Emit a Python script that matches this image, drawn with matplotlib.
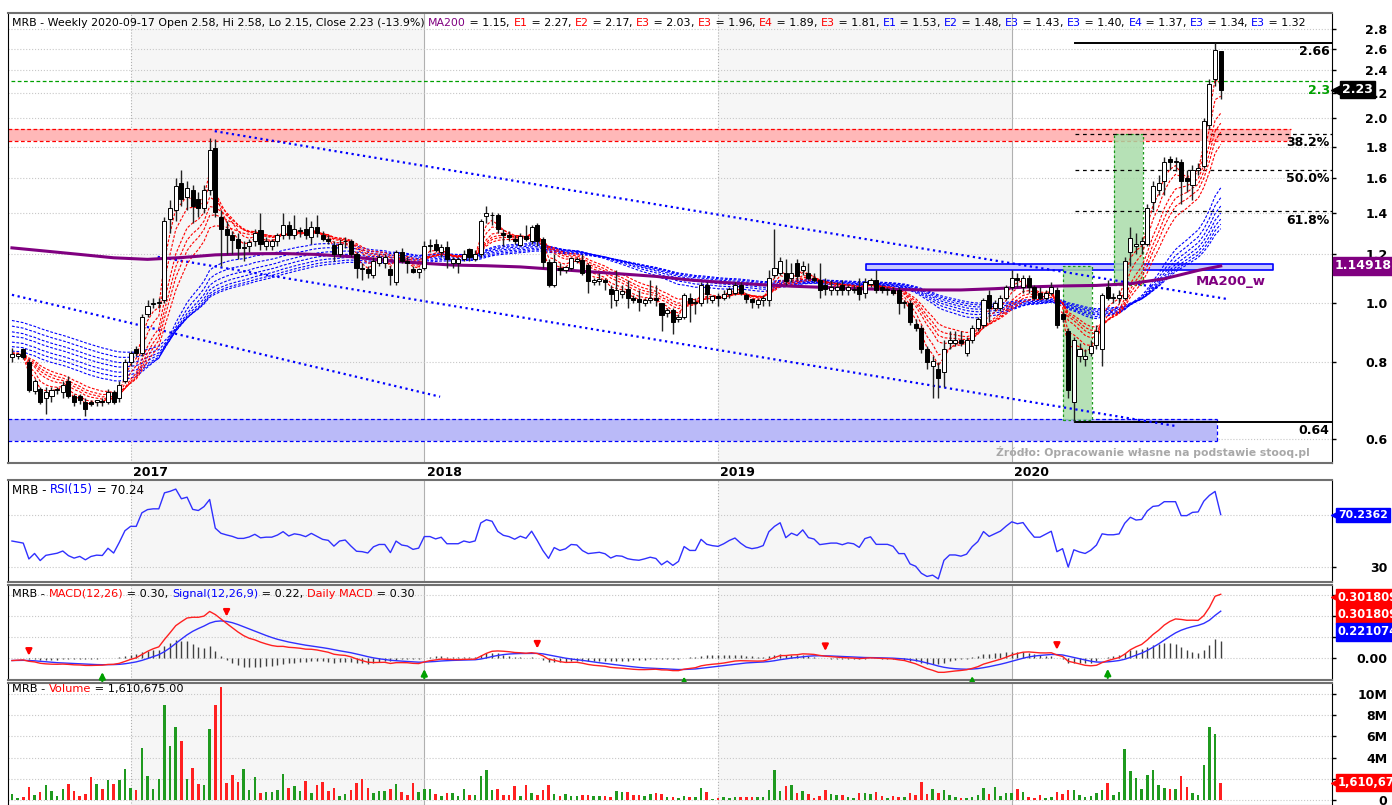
import matplotlib
matplotlib.use('Agg')
import matplotlib.pyplot as plt
import matplotlib.transforms as mtransforms
import numpy as np
import pandas as pd

plt.rcParams['font.family'] = ['DejaVu Sans']

# ---------------- data (weekly MRB candles) ----------------
DATES = pd.date_range('2016-08-11', periods=215, freq='7D')

OPEN = [.815, .82, .84, .80, .718, .725, .70, .705, .72, .715,
        .745, .705, .705, .69, .69, .69, .69, .69, .715, .70,
        .745, .80, .84, .83, .96, .995, 1.0, 1.01, 1.37, 1.42,
        1.57, 1.49, 1.53, 1.48, 1.43, 1.53, 1.79, 1.38, 1.32, 1.29,
        1.27, 1.23, 1.24, 1.26, 1.315, 1.24, 1.24, 1.26, 1.29, 1.34,
        1.29, 1.31, 1.32, 1.28, 1.33, 1.29, 1.27, 1.245, 1.20, 1.26,
        1.26, 1.20, 1.14, 1.135, 1.11, 1.16, 1.16, 1.135, 1.08, 1.21,
        1.17, 1.135, 1.125, 1.14, 1.24, 1.25, 1.21, 1.235, 1.16, 1.16,
        1.18, 1.225, 1.18, 1.20, 1.385, 1.39, 1.39, 1.30, 1.29, 1.27,
        1.245, 1.285, 1.26, 1.34, 1.27, 1.165, 1.07, 1.14, 1.13, 1.14,
        1.17, 1.175, 1.155, 1.08, 1.085, 1.09, 1.055, 1.01, 1.035, 1.055,
        1.02, 1.015, 1.0, 1.01, 1.02, .998, .962, .972, .94, .948,
        1.02, 1.0, .998, 1.07, 1.01, 1.025, 1.02, 1.035, 1.04, 1.07,
        1.03, 1.015, .995, 1.01, 1.01, 1.11, 1.12, 1.12, 1.10, 1.16,
        1.13, 1.12, 1.10, 1.09, 1.07, 1.05, 1.05, 1.07, 1.05, 1.05,
        1.06, 1.04, 1.075, 1.09, 1.06, 1.05, 1.05, 1.05, 1.0, 1.0,
        .925, .91, .84, .79, .78, .77, .86, .86, .87, .83,
        .87, .91, .92, 1.03, .98, .98, 1.02, 1.06, 1.10, 1.06,
        1.10, 1.06, 1.04, 1.02, 1.04, 1.05, .96, .90, .69, .82,
        .81, .83, .855, .84, 1.06, 1.02, 1.02, 1.02, 1.21, 1.24,
        1.25, 1.25, 1.46, 1.53, 1.58, 1.72, 1.70, 1.70, 1.60, 1.56,
        1.65, 1.67, 1.95, 2.32, 2.58]
HIGH = [.845, .83, .845, .81, .75, .73, .73, .73, .73, .745,
        .76, .71, .71, .70, .695, .695, .70, .725, .72, .745,
        .81, .835, .85, .96, 1.01, 1.02, 1.02, 1.38, 1.47, 1.60,
        1.65, 1.58, 1.56, 1.52, 1.56, 1.86, 1.85, 1.42, 1.36, 1.31,
        1.30, 1.26, 1.27, 1.32, 1.40, 1.28, 1.27, 1.30, 1.40, 1.36,
        1.39, 1.33, 1.38, 1.36, 1.39, 1.31, 1.29, 1.26, 1.27, 1.28,
        1.27, 1.21, 1.16, 1.15, 1.19, 1.20, 1.20, 1.15, 1.22, 1.23,
        1.19, 1.15, 1.14, 1.26, 1.27, 1.27, 1.25, 1.26, 1.19, 1.19,
        1.22, 1.23, 1.22, 1.37, 1.44, 1.41, 1.40, 1.32, 1.31, 1.29,
        1.30, 1.34, 1.34, 1.35, 1.28, 1.18, 1.20, 1.16, 1.15, 1.19,
        1.19, 1.20, 1.16, 1.10, 1.12, 1.10, 1.07, 1.13, 1.07, 1.09,
        1.03, 1.05, 1.02, 1.09, 1.07, 1.0, .98, .98, .96, 1.04,
        1.04, 1.02, 1.08, 1.08, 1.03, 1.04, 1.05, 1.06, 1.08, 1.08,
        1.04, 1.02, 1.02, 1.03, 1.13, 1.32, 1.19, 1.18, 1.16, 1.18,
        1.17, 1.16, 1.12, 1.16, 1.10, 1.09, 1.08, 1.09, 1.07, 1.07,
        1.10, 1.10, 1.10, 1.13, 1.07, 1.06, 1.06, 1.06, 1.01, 1.01,
        .94, .92, .85, .82, .80, .87, .90, .90, .90, .88,
        .92, .95, 1.02, 1.05, 1.01, 1.03, 1.07, 1.13, 1.12, 1.11,
        1.11, 1.07, 1.06, 1.05, 1.08, 1.06, .97, .91, .88, .86,
        .84, .87, .92, 1.04, 1.09, 1.04, 1.05, 1.19, 1.33, 1.30,
        1.28, 1.45, 1.58, 1.62, 1.73, 1.74, 1.73, 1.72, 1.65, 1.68,
        1.69, 2.0, 2.32, 2.66, 2.58]
LOW = [.80, .81, .81, .715, .71, .685, .66, .69, .71, .70,
       .70, .68, .685, .655, .68, .68, .68, .685, .685, .69,
       .74, .79, .82, .82, .95, .98, .98, 1.0, 1.30, 1.36,
       1.44, 1.42, 1.35, 1.38, 1.40, 1.50, 1.38, 1.15, 1.20, 1.20,
       1.18, 1.17, 1.21, 1.24, 1.22, 1.22, 1.22, 1.24, 1.27, 1.27,
       1.27, 1.28, 1.27, 1.25, 1.28, 1.26, 1.25, 1.17, 1.19, 1.23,
       1.19, 1.10, 1.09, 1.10, 1.10, 1.15, 1.14, 1.07, 1.07, 1.16,
       1.12, 1.12, 1.10, 1.13, 1.21, 1.21, 1.19, 1.14, 1.14, 1.12,
       1.17, 1.17, 1.17, 1.19, 1.35, 1.34, 1.30, 1.24, 1.26, 1.25,
       1.24, 1.26, 1.25, 1.24, 1.14, 1.06, 1.06, 1.11, 1.12, 1.13,
       1.16, 1.11, 1.04, 1.07, 1.07, 1.05, .98, .99, 1.02, .98,
       1.0, .97, .99, 1.0, .99, .90, .95, .89, .93, .94,
       .93, .96, .99, 1.0, 1.0, .99, 1.01, 1.02, 1.03, 1.03,
       1.0, .98, .98, .99, .99, 1.10, 1.11, 1.07, 1.08, 1.09,
       1.11, 1.09, 1.08, 1.02, 1.03, 1.03, 1.03, 1.03, 1.03, 1.04,
       1.01, 1.02, 1.06, 1.04, 1.04, 1.03, 1.03, .96, .98, .92,
       .90, .83, .78, .70, .70, .73, .84, .85, .85, .82,
       .86, .90, .91, .93, .97, .97, 1.01, 1.05, 1.06, 1.04,
       1.04, 1.01, 1.01, 1.01, 1.03, .91, .93, .70, .64, .80,
       .79, .82, .84, .79, 1.01, 1.0, 1.0, 1.01, 1.15, 1.20,
       1.20, 1.24, 1.42, 1.50, 1.50, 1.65, 1.64, 1.45, 1.52, 1.47,
       1.62, 1.66, 1.92, 2.26, 2.15]
CLOSE = [.825, .82, .815, .72, .745, .69, .715, .72, .725, .735,
         .705, .688, .695, .672, .685, .69, .688, .715, .69, .735,
         .80, .83, .83, .95, .99, 1.0, 1.0, 1.36, 1.43, 1.55,
         1.48, 1.54, 1.44, 1.43, 1.53, 1.78, 1.41, 1.32, 1.29, 1.265,
         1.23, 1.23, 1.255, 1.30, 1.25, 1.26, 1.26, 1.29, 1.34, 1.29,
         1.32, 1.31, 1.29, 1.33, 1.30, 1.27, 1.26, 1.20, 1.25, 1.26,
         1.20, 1.14, 1.135, 1.12, 1.17, 1.19, 1.19, 1.11, 1.21, 1.17,
         1.16, 1.125, 1.135, 1.24, 1.24, 1.22, 1.235, 1.18, 1.18, 1.18,
         1.20, 1.19, 1.20, 1.36, 1.40, 1.39, 1.32, 1.29, 1.28, 1.26,
         1.285, 1.27, 1.33, 1.26, 1.165, 1.07, 1.165, 1.13, 1.145, 1.185,
         1.18, 1.12, 1.085, 1.09, 1.095, 1.08, 1.035, 1.05, 1.045, 1.02,
         1.01, 1.005, 1.012, 1.02, 1.01, .955, .972, .932, .95, 1.03,
         1.0, 1.0, 1.07, 1.035, 1.025, 1.02, 1.035, 1.055, 1.07, 1.04,
         1.015, 1.005, 1.01, 1.02, 1.10, 1.14, 1.17, 1.085, 1.12, 1.105,
         1.15, 1.10, 1.09, 1.05, 1.055, 1.06, 1.06, 1.05, 1.06, 1.055,
         1.035, 1.08, 1.09, 1.05, 1.05, 1.05, 1.04, 1.0, 1.0, .93,
         .91, .84, .80, .805, .755, .84, .87, .87, .86, .87,
         .91, .94, 1.01, .98, 1.0, 1.02, 1.06, 1.10, 1.09, 1.10,
         1.06, 1.02, 1.02, 1.04, 1.06, .92, .94, .72, .87, .84,
         .82, .85, .90, 1.03, 1.02, 1.02, 1.03, 1.17, 1.275, 1.25,
         1.26, 1.43, 1.55, 1.57, 1.70, 1.70, 1.70, 1.58, 1.58, 1.65,
         1.66, 1.98, 2.28, 2.59, 2.23]
VOLUME_M = [.57, .2, .3, 1.24, .5, .73, 1.43, .83, .41, 1.05,
            1.49, .83, .41, .6, 2.19, 1.49, 1.05, 1.84, 1.49, 1.84,
            2.95, 1.14, .92, 4.9, 2.25, 1.08, 1.94, 8.98, 5.1, 6.9,
            5.6, 2.0, 3.05, 1.52, 1.43, 6.67, 8.98, 10.67, 1.59, 2.35,
            1.68, 2.89, .98, 2.19, .67, .76, .79, .95, 2.5, 1.11,
            1.33, .86, 1.78, .67, 1.43, 1.68, .86, 1.17, .41, .57,
            .92, 1.59, 2.0, 1.17, .67, .86, .86, 1.02, 1.52, .76,
            .51, 1.59, .76, 1.02, 1.02, .57, .41, .67, .67, .41,
            1.08, .51, .51, 2.29, 2.79, .92, 1.02, .51, .51, 1.33,
            .41, 1.43, .63, .51, .95, 1.37, .57, .41, .57, .35,
            .41, .51, .51, .41, .41, .41, .29, .86, .73, .79,
            .51, .51, .41, .57, .67, .57, .25, .25, .19, .41,
            .32, .25, 1.14, .73, .1, .19, .32, .19, .25, .25,
            .32, .32, .25, .32, .98, 2.86, .83, 1.33, 1.43, .67,
            .86, .57, .16, .38, .92, .57, .48, .48, .25, .16,
            .67, .67, .57, .76, .38, .16, .38, .25, .25, .67,
            .48, 1.68, .57, 1.05, .67, .98, .48, .32, .16, .16,
            .32, .48, 1.14, .57, 1.24, .41, .67, .67, 1.08, .76,
            .32, .16, .48, .16, .25, .76, .57, .92, .92, .48,
            .32, .41, .67, .98, 1.59, .48, .76, 4.79, 2.7, 2.1,
            1.08, 2.32, 2.79, 1.43, 1.14, 1.08, 1.08, 2.25, 1.27, .67,
            .48, 3.33, 6.9, 6.25, 1.61]

# weekly MA200 read at every 6th week
MA_IDX = [0, 6, 12, 18, 24, 30, 36, 42, 48, 54, 60, 66, 72, 78, 84, 90, 96, 102,
          108, 114, 120, 126, 132, 138, 144, 150, 156, 162, 168, 174, 180, 186,
          192, 198, 204, 210, 214]
MA_VAL = [1.23, 1.215, 1.20, 1.185, 1.178, 1.186, 1.198, 1.203, 1.204, 1.20,
          1.19, 1.173, 1.162, 1.153, 1.15, 1.145, 1.135, 1.125, 1.115, 1.105,
          1.09, 1.08, 1.072, 1.065, 1.06, 1.055, 1.052, 1.05, 1.05, 1.055,
          1.062, 1.066, 1.068, 1.075, 1.095, 1.13, 1.149]

EMA_SHORT = [3, 5, 8, 10, 12, 15]
EMA_SHORT_SEED = [.82, .82, .822, .825, .828, .83]
EMA_LONG = [30, 35, 40, 45, 50, 55, 60]
EMA_LONG_SEED = [.835, .85, .865, .885, .90, .92, .94]
MACD_SEED = (.805, .82, -.012)      # ema12, ema26, signal
RSI_SEED = (.012, .012)             # avg gain, avg loss

RED_NAMES = ['E1', 'E2', 'E3', 'E3', 'E4', 'E3']
RED_VALS = [2.27, 2.17, 2.03, 1.96, 1.89, 1.81]
BLUE_NAMES = ['E1', 'E2', 'E3', 'E3', 'E4', 'E3', 'E3']
BLUE_VALS = [1.53, 1.48, 1.43, 1.40, 1.37, 1.34, 1.32]
RSI_LAST = '70.24'
RSI_TAG = '70.2362'
MACD_TAG, SIGNAL_TAG = '0.301809', '0.221074'
MA_TAG = '1.14918'
VOL_LAST = 1610675

SELL_WEEKS = [3, 38, 93, 144, 185]
BUY_WEEKS = [16, 73, 119, 170, 194]

PRICE_TICKS = [0.6, 0.8, 1.0, 1.2, 1.4, 1.6, 1.8, 2.0, 2.2, 2.4, 2.6, 2.8]
HI_LEVEL, LO_LEVEL, LEVEL_FROM = 2.66, 0.64, 188.2
FIBS = [0.382, 0.5, 0.618]
GREEN_LEVEL = 2.3
RED_ZONE = (1.84, 1.92, 226.5)
BLUE_ZONE = (0.596, 0.647, 213.3)
BLUE_BOX = (151.2, 223.3, 1.132, 1.157)
GREEN_BOXES = [(186.1, 191.2, 0.645, 1.15), (195.1, 200.2, 1.07, 1.89)]
CHANNEL = [((35.9, 1.907), (215.1, 1.015)),
           ((25.8, 1.189), (205.9, 0.630)),
           ((0, 1.031), (75.8, 0.703))]

# ---------------- indicators ----------------
o, h, l, c = map(np.array, (OPEN, HIGH, LOW, CLOSE))
x = np.arange(len(c))


def ema(vals, span, seed):
    a = 2.0 / (span + 1)
    e, out = seed, []
    for v in vals:
        e = e + a * (v - e)
        out.append(e)
    return np.array(out)


def rsi(vals, n, g, ls):
    out = []
    for i, v in enumerate(vals):
        d = v - vals[i - 1] if i else 0.0
        g = (g * (n - 1) + max(d, 0)) / n
        ls = (ls * (n - 1) + max(-d, 0)) / n
        out.append(100 * g / (g + ls))
    return np.array(out)


macd = ema(c, 12, MACD_SEED[0]) - ema(c, 26, MACD_SEED[1])
signal = ema(macd, 9, MACD_SEED[2])
hist = macd - signal
rsi15 = rsi(c, 15, *RSI_SEED)

# ---------------- figure ----------------
W, H = 1392, 805
fig = plt.figure(figsize=(W / 100, H / 100), dpi=100)


def px_axes(left, top, right, bottom):
    return fig.add_axes([left / W, 1 - bottom / H, (right - left) / W, (bottom - top) / H])


ax_p = px_axes(8, 13, 1332, 463)
ax_r = px_axes(8, 480, 1332, 582)
ax_m = px_axes(8, 585, 1332, 680)
ax_v = px_axes(8, 683, 1332, 806)
axes = [ax_p, ax_r, ax_m, ax_v]

XMIN, XMAX = -0.7, 233.7
years = sorted(set(DATES.year))[1:]
year_idx = [int(np.argmax(DATES.year == y)) for y in years]

for ax in axes:
    ax.set_xlim(XMIN, XMAX)
    ax.set_facecolor('white')
    for k, (y, xi) in enumerate(zip(years, year_idx)):
        if y % 2 == 1:
            nxt = year_idx[k + 1] if k + 1 < len(year_idx) else XMAX
            ax.axvspan(xi, nxt, color='#f6f6f6', zorder=0, lw=0)
        ax.axvline(xi, color='#b0b0b0', lw=0.8, ls='-' if y % 2 == 0 else ':', zorder=0.5)
    ax.set_xticks([])
    ax.yaxis.tick_right()
    ax.tick_params(axis='y', length=3, width=1, pad=37, labelsize=9)
    for s in ['top', 'bottom']:
        ax.spines[s].set_color('#707070')
        ax.spines[s].set_linewidth(1.5)
    ax.spines['left'].set_color('black')
    ax.spines['right'].set_color('black')


def set_ticks(ax, ticks, labels):
    ax.set_yticks(ticks)
    ax.set_yticklabels(labels, fontweight='bold', fontsize=9, ha='right')
    for t in ticks:
        ax.axhline(t, color='#c8c8c8', lw=0.8, ls=':', zorder=0.6)


# ---- price panel ----
ax_p.set_yscale('log')
ax_p.set_ylim(0.548, 2.973)
ax_p.minorticks_off()
set_ticks(ax_p, PRICE_TICKS, ['%.1f' % t for t in PRICE_TICKS])

# zones
ax_p.fill_between([XMIN, RED_ZONE[2]], RED_ZONE[0], RED_ZONE[1], color='#ffb8b8', lw=0, zorder=1)
for yv in RED_ZONE[:2]:
    ax_p.plot([XMIN, RED_ZONE[2]], [yv, yv], color='red', lw=0.9, ls=(0, (3, 2)), zorder=1.1)
ax_p.fill_between([XMIN, BLUE_ZONE[2]], BLUE_ZONE[0], BLUE_ZONE[1], color='#babaf8', lw=0, zorder=1)
for yv in BLUE_ZONE[:2]:
    ax_p.plot([XMIN, BLUE_ZONE[2]], [yv, yv], color='blue', lw=0.9, ls=(0, (3, 2)), zorder=1.1)
ax_p.plot([BLUE_ZONE[2]] * 2, BLUE_ZONE[:2], color='blue', lw=0.9, ls=(0, (3, 2)), zorder=1.1)
bx0, bx1, by0, by1 = BLUE_BOX
ax_p.fill_between([bx0, bx1], by0, by1, facecolor='#c8c8ff', edgecolor='blue', lw=1.2, zorder=1.2)
for gx0, gx1, gy0, gy1 in GREEN_BOXES:
    ax_p.fill_between([gx0, gx1], gy0, gy1, facecolor='#a9dca9', edgecolor='none', alpha=0.85, zorder=1.3)
    ax_p.plot([gx0, gx1, gx1, gx0, gx0], [gy0, gy0, gy1, gy1, gy0], color='#1a9a1a', lw=0.9,
              ls=(0, (2, 2)), zorder=1.35)

# level lines
ax_p.axhline(GREEN_LEVEL, xmin=0.002, color='#00a000', lw=0.9, ls=(0, (3, 2)), zorder=1.4)
for lv in (HI_LEVEL, LO_LEVEL):
    ax_p.plot([LEVEL_FROM, XMAX], [lv, lv], color='black', lw=1.4, zorder=1.5)
for f in FIBS:
    lv = HI_LEVEL - f * (HI_LEVEL - LO_LEVEL)
    ax_p.plot([LEVEL_FROM, XMAX], [lv, lv], color='black', lw=0.9, ls=(0, (3, 3)), zorder=1.5)

# channel
for (xa, ya), (xb, yb) in CHANNEL:
    ax_p.plot([xa, xb], [ya, yb], color='blue', lw=1.6, ls=(0, (1, 1.6)), zorder=1.6)

# EMA ribbons
for span, seed in zip(EMA_LONG, EMA_LONG_SEED):
    ax_p.plot(x, ema(c, span, seed), color='blue', lw=0.8, ls=(0, (2.5, 1.5)), zorder=2)
for span, seed in zip(EMA_SHORT, EMA_SHORT_SEED):
    ax_p.plot(x, ema(c, span, seed), color='red', lw=0.8, ls=(0, (2.5, 1.5)), zorder=2.1)

# MA200
ax_p.plot(MA_IDX, MA_VAL, color='#800080', lw=2.2, zorder=2.5)

# candles
up = c >= o
ax_p.vlines(x, l, h, color='#222222', lw=1, zorder=3)
body_lo = np.minimum(o, c)
body_h = np.maximum(np.abs(c - o), 0.004)
ax_p.bar(x, body_h, bottom=body_lo, width=0.72,
         color=np.where(up, 'white', 'black'), edgecolor='black', lw=0.7, zorder=3.2)

# texts inside price panel
lab_kw = dict(fontsize=9, fontweight='bold', ha='right', va='top', zorder=6)
xr = XMAX - 0.4
ax_p.text(xr, HI_LEVEL * 0.992, '%.2f' % HI_LEVEL, **lab_kw)
ax_p.text(xr, LO_LEVEL * 0.992, '%.2f' % LO_LEVEL, **lab_kw)
ax_p.text(xr, GREEN_LEVEL * 0.99, '%.1f' % GREEN_LEVEL, color='#00a000', **lab_kw)
for f in FIBS:
    lv = HI_LEVEL - f * (HI_LEVEL - LO_LEVEL)
    ax_p.text(xr, lv * 0.99, '%.1f%%' % (f * 100), **lab_kw)
ax_p.text(209.5, 1.083, 'MA200_w', color='#800080', fontsize=9.5, fontweight='bold',
          ha='left', va='center', zorder=6)
ax_p.text(0.983, 0.025, 'Źródło: Opracowanie własne na podstawie stooq.pl', transform=ax_p.transAxes,
          color='#a8a8a8', fontsize=7.8, fontweight='bold', ha='right', va='center', zorder=6)

trans_year = mtransforms.blended_transform_factory(ax_p.transData, ax_p.transAxes)
for y, xi in zip(years, year_idx):
    ax_p.text(xi + 0.4, -0.02, str(y), transform=trans_year, fontsize=9, fontweight='bold',
              ha='left', va='center', clip_on=False)

# ---- RSI panel ----
ax_r.set_ylim(18.5, 96.9)
set_ticks(ax_r, [30, 70], ['30', ''])
ax_r.plot(x, rsi15, color='#3030ff', lw=1, zorder=3)

# ---- MACD panel ----
ax_m.set_ylim(-0.105, 0.348)
set_ticks(ax_m, [0, 0.1, 0.2, 0.3], ['0.00', '', '', ''])
ax_m.vlines(x, 0, hist, color='#404040', lw=1, zorder=2)
ax_m.plot(x, signal, color='#3030ff', lw=1, zorder=3)
ax_m.plot(x, macd, color='#ff2020', lw=1, zorder=3.1)
for k in SELL_WEEKS:
    v = max(macd[k], signal[k])
    ax_m.annotate('', xy=(k, v + 0.01), xytext=(k, v + 0.07),
                  arrowprops=dict(arrowstyle='-|>', color='red', lw=1.6, mutation_scale=9), zorder=5)
for k in BUY_WEEKS:
    v = min(macd[k], signal[k])
    ax_m.annotate('', xy=(k, v - 0.02), xytext=(k, v - 0.09),
                  arrowprops=dict(arrowstyle='-|>', color='#00a000', lw=1.6, mutation_scale=9), zorder=5)

# ---- volume panel ----
ax_v.set_ylim(-0.57, 11.05)
set_ticks(ax_v, [0, 2, 4, 6, 8, 10], ['0', '', '4M', '6M', '8M', '10M'])
ax_v.bar(x, VOLUME_M, width=0.45, color=np.where(up, '#1f9a1f', '#ff2020'), zorder=3)


# ---------------- multi-coloured headers ----------------
renderer = fig.canvas.get_renderer()


def text_width(s, size):
    t = fig.text(0, 0, s + '|', fontsize=size)
    t2 = fig.text(0, 0, '|', fontsize=size)
    w = t.get_window_extent(renderer).width - t2.get_window_extent(renderer).width
    t.remove()
    t2.remove()
    return w


def rich(ax, parts, size, top_px):
    bbox = ax.get_window_extent(renderer)
    x0 = bbox.x0 + 4
    y0 = bbox.y1 - top_px
    prefix = ''
    for s, col in parts:
        dx = text_width(prefix, size) if prefix else 0
        fig.text((x0 + dx) / W, y0 / H, s, color=col, fontsize=size, va='center', ha='left', zorder=10)
        prefix += s


K, R, B, P = 'black', '#ff0000', '#0000ff', '#800080'
last = len(c) - 1
chg = (c[last] / c[last - 1] - 1) * 100
head = [('MRB - Weekly %s Open %.2f, Hi %.2f, Lo %.2f, Close %.2f (%.1f%%) '
         % (DATES[last].strftime('%Y-%m-%d'), o[last], h[last], l[last], c[last], chg), K),
        ('MA200', P), (' = %.2f' % MA_VAL[-1], K)]
for n, v in zip(RED_NAMES, RED_VALS):
    head += [(', ', K), (n, R), (' = %.2f' % v, K)]
for n, v in zip(BLUE_NAMES, BLUE_VALS):
    head += [(', ', K), (n, B), (' = %.2f' % v, K)]
rich(ax_p, head, 7.95, 10)
rich(ax_r, [('MRB - ', K), ('RSI(15)', B), (' = ' + RSI_LAST, K)], 8.5, 10)
rich(ax_m, [('MRB - ', K), ('MACD(12,26)', R), (' = %.2f, ' % macd[-1], K), ('Signal(12,26,9)', B),
            (' = %.2f, ' % signal[-1], K), ('Daily MACD', R), (' = %.2f' % macd[-1], K)], 8.1, 9)
rich(ax_v, [('MRB - ', K), ('Volume', R), (' = {:,.2f}'.format(VOL_LAST), K)], 8.2, 6)


# ---------------- right-axis value tags ----------------
def tag(ax, yv, s, fc, arrow=True, dx=8, size=8.5):
    tr = mtransforms.blended_transform_factory(ax.transAxes, ax.transData)
    if arrow:
        ax.plot([1.0035], [yv], marker='<', ms=8, color=fc, transform=tr, clip_on=False, zorder=19)
    ax.annotate(s, xy=(1, yv), xycoords=tr, xytext=(dx, 0), textcoords='offset pixels',
                ha='left', va='center', fontsize=size, fontweight='bold', color='white',
                bbox=dict(boxstyle='square,pad=0.18', fc=fc, ec=fc), annotation_clip=False, zorder=20)


tag(ax_p, c[last], '%.2f' % c[last], 'black', dx=10, size=9)
tag(ax_p, MA_VAL[-1], MA_TAG, P, arrow=False, dx=3, size=9)
tag(ax_r, 70.0, RSI_TAG, '#0000ff', dx=6, size=7.8)
tag(ax_m, 0.29, MACD_TAG, '#ff0000', dx=6, size=8.3)
tag(ax_m, 0.205, MACD_TAG, '#ff0000', arrow=False, dx=6, size=8.3)
tag(ax_m, 0.124, SIGNAL_TAG, '#0000ff', arrow=False, dx=6, size=8.3)
tag(ax_v, 1.61, '{:,}'.format(VOL_LAST), '#ff0000', dx=6, size=8.3)

fig.savefig('out.png', dpi=100)
